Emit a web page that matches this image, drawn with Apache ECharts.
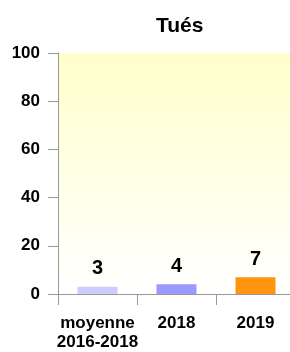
<!DOCTYPE html>
<html><head><meta charset="utf-8">
<script src="https://cdn.jsdelivr.net/npm/echarts@6/dist/echarts.min.js"></script>
<style>html,body{margin:0;padding:0;background:#fff}#c{width:290px;height:352px}</style>
</head><body><div id="c"></div>
<script>
const categories = ['moyenne\n2016-2018', '2018', '2019'];
const values = [3, 4, 7];
const barColors = ['#ccccff', '#9999ff', '#ff950e'];
const yTicks = [0, 20, 40, 60, 80, 100];
const titleText = 'Tués';

const chart = echarts.init(document.getElementById('c'), null, {renderer: 'canvas'});
const font = '"Liberation Sans", Arial, sans-serif';
chart.setOption({
  animation: false,
  title: {text: titleText, left: 151, top: 11,
    textStyle: {fontFamily: font, fontWeight: 'bold', fontSize: 21, color: '#000'}},
  grid: {left: 58, top: 53, width: 237, height: 241, outerBoundsMode: 'none', containLabel: false,
    show: true, borderWidth: 0, borderColor: 'rgba(0,0,0,0)',
    backgroundColor: new echarts.graphic.LinearGradient(0, 0, 0, 1, [
      {offset: 0, color: '#ffffcc'}, {offset: 1, color: '#ffffff'}])},
  xAxis: {type: 'category', data: categories,
    axisLine: {lineStyle: {color: '#999999', width: 1}},
    axisTick: {show: true, length: 11, alignWithLabel: false, lineStyle: {color: '#999999'}},
    axisLabel: {fontFamily: font, fontWeight: 'bold', fontSize: 17, color: '#000', margin: 20, lineHeight: 19, interval: 0}},
  yAxis: {type: 'value', min: yTicks[0], max: yTicks[yTicks.length - 1], interval: 20,
    axisLine: {show: true, lineStyle: {color: '#999999'}},
    axisTick: {show: true, length: 10, lineStyle: {color: '#999999'}},
    splitLine: {show: false},
    axisLabel: {fontFamily: font, fontWeight: 'bold', fontSize: 17, color: '#000', margin: 18}},
  series: [{type: 'bar', barWidth: 40,
    data: values.map((v, i) => ({value: v, itemStyle: {color: barColors[i]}})),
    label: {show: true, position: 'top', distance: 8, fontFamily: font, fontWeight: 'bold', fontSize: 20, color: '#000'}}]
});
</script></body></html>
